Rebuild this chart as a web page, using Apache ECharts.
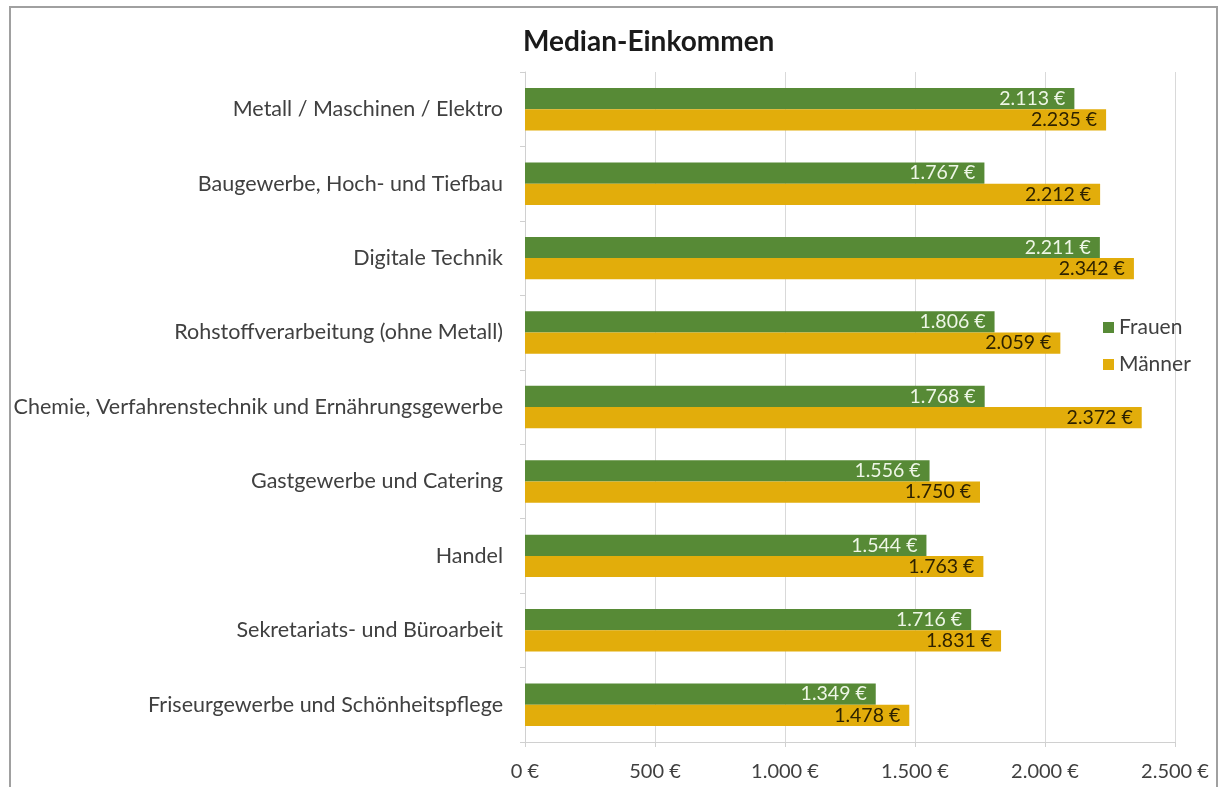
<!DOCTYPE html>
<html>
<head>
<meta charset="utf-8">
<script src="https://cdn.jsdelivr.net/npm/echarts@6/dist/echarts.min.js"></script>
<style>
  html, body { margin: 0; padding: 0; background: #fff; }
  #chart { width: 1221px; height: 787px; }
</style>
</head>
<body>
<div id="chart"></div>
<script>
// Median income by occupational field, women vs. men
const categories = [
  'Metall / Maschinen / Elektro',
  'Baugewerbe, Hoch- und Tiefbau',
  'Digitale Technik',
  'Rohstoffverarbeitung (ohne Metall)',
  'Chemie, Verfahrenstechnik und Ernährungsgewerbe',
  'Gastgewerbe und Catering',
  'Handel',
  'Sekretariats- und Büroarbeit',
  'Friseurgewerbe und Schönheitspflege'
];
const frauen = [2113, 1767, 2211, 1806, 1768, 1556, 1544, 1716, 1349];
const maenner = [2235, 2212, 2342, 2059, 2372, 1750, 1763, 1831, 1478];
const seriesNames = ['Frauen', 'Männer'];
const titleText = 'Median-Einkommen';

const FONT = 'Lato, "Noto Sans", sans-serif';

function euro(v) {
  return String(v).replace(/\B(?=(\d{3})+(?!\d))/g, '.') + ' €';
}

const chart = echarts.init(document.getElementById('chart'), null, { renderer: 'canvas' });

chart.setOption({
  backgroundColor: '#ffffff',
  animation: false,
  title: {
    text: titleText,
    left: 518,
    top: 23,
    textStyle: { fontFamily: FONT, fontSize: 28, fontWeight: 'bold', color: '#1a1a1a' }
  },
  legend: {
    orient: 'vertical',
    left: 1098,
    top: 312,
    itemWidth: 11,
    itemHeight: 11,
    itemGap: 16,
    icon: 'rect',
    textStyle: { fontFamily: FONT, fontSize: 21, color: '#404040' },
    data: seriesNames
  },
  grid: { left: 525, right: 46, top: 72, bottom: 45, containLabel: false },
  xAxis: {
    type: 'value',
    min: 0,
    max: 2500,
    interval: 500,
    axisLine: { show: true, lineStyle: { color: '#d0d0d0' } },
    axisTick: { show: true, length: 5, lineStyle: { color: '#d0d0d0' } },
    splitLine: { show: true, lineStyle: { color: '#d9d9d9' } },
    axisLabel: {
      fontFamily: FONT, fontSize: 20, color: '#404040', margin: 20,
      formatter: v => euro(v)
    }
  },
  yAxis: {
    type: 'category',
    data: categories,
    inverse: true,
    axisLine: { show: true, lineStyle: { color: '#d0d0d0' } },
    axisTick: { show: true, length: 5, lineStyle: { color: '#d0d0d0' } },
    axisLabel: { fontFamily: FONT, fontSize: 21.5, color: '#404040', margin: 22 }
  },
  series: [
    {
      name: seriesNames[0],
      type: 'bar',
      data: frauen,
      barGap: '0%',
      barCategoryGap: '43%',
      itemStyle: { color: '#578a36' },
      label: {
        show: true,
        position: 'insideRight',
        distance: 9,
        fontFamily: FONT,
        fontSize: 19.5,
        color: '#eef6e6',
        formatter: p => euro(p.value)
      }
    },
    {
      name: seriesNames[1],
      type: 'bar',
      data: maenner,
      barGap: '0%',
      barCategoryGap: '43%',
      itemStyle: { color: '#e2ad0b' },
      label: {
        show: true,
        position: 'insideRight',
        distance: 9,
        fontFamily: FONT,
        fontSize: 19.5,
        color: '#2e2200',
        formatter: p => euro(p.value)
      }
    }
  ],
  graphic: [
    {
      type: 'rect',
      silent: true,
      shape: { x: 10, y: 7, width: 1207, height: 800 },
      style: { fill: 'none', stroke: '#a0a0a0', lineWidth: 2 }
    }
  ]
});
</script>
</body>
</html>
